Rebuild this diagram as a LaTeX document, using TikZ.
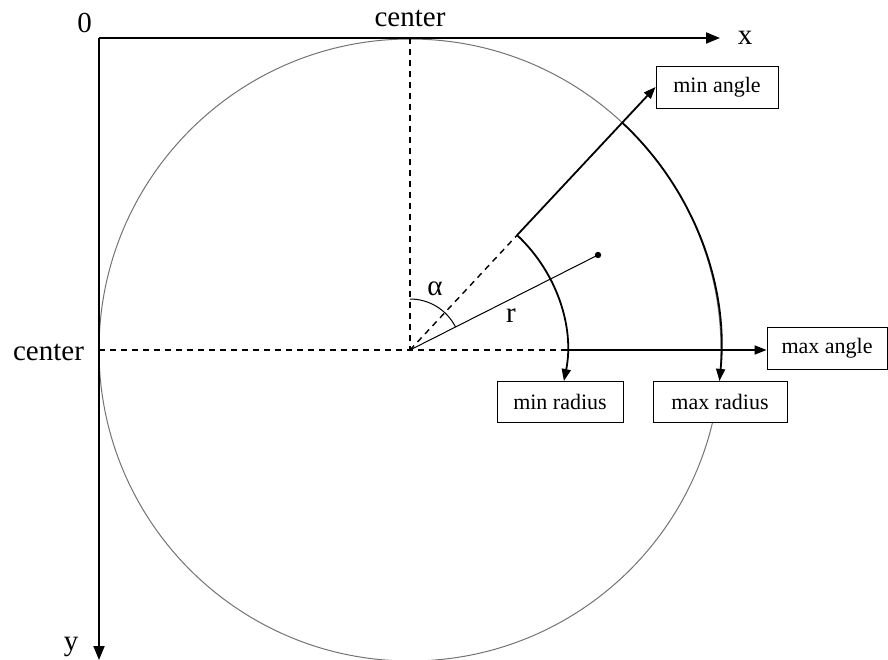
\documentclass[tikz,border=0pt]{standalone}
\usepackage{fontspec}
\setmainfont{Liberation Serif}
\usetikzlibrary{arrows.meta,calc}
\begin{document}
\begin{tikzpicture}[x=1pt,y=-1pt,
  axisline/.style={line width=2pt,-{Triangle[length=14pt,width=11pt]}},
  arcline/.style={line width=1.8pt,-{Triangle[length=12pt,width=9pt]}},
  dashline/.style={line width=1.4pt,dash pattern=on 6pt off 5pt},
  thinline/.style={line width=1pt},
  labelbox/.style={draw,fill=white,line width=0.9pt,inner sep=0pt,font=\fontsize{22}{26}\selectfont},
  biglabel/.style={anchor=base,inner sep=0pt,font=\fontsize{29}{32}\selectfont}]
\useasboundingbox (0,0) rectangle (888,660);
% key points
\coordinate (O) at (99,38);
\coordinate (C) at (410,350);
\coordinate (Xend) at (720,38);
\coordinate (Yend) at (99,660);
\coordinate (Ctop) at (410,38);
\coordinate (Cleft) at (99,350);
\coordinate (Pmin) at ($(C)+(-47:157)$);
\coordinate (Pmax) at ($(C)+(-47:311)$);
\coordinate (H1) at ($(C)+(0:157)$);
\coordinate (Aa) at ($(C)+(-90:51)$);
\coordinate (D) at (598,255);
% circle
\draw[line width=1pt,black!55] (C) circle (311);
% axes
\draw[axisline] (O) -- (Xend);
\draw[axisline] (O) -- (Yend);
% dashed guides
\draw[dashline] (Ctop) -- (C);
\draw[dashline] (Cleft) -- (C) -- (H1);
\draw[dashline] (C) -- (Pmin);
% boxes
\node[labelbox,minimum width=122pt,minimum height=42pt] (minangle) at (717,87) {min angle};
\node[labelbox,minimum width=120pt,minimum height=42pt] (maxangle) at (827,348) {max angle};
\node[labelbox,minimum width=126pt,minimum height=41pt] (minradius) at (560,401.5) {min radius};
\node[labelbox,minimum width=134pt,minimum height=41pt] (maxradius) at (720,401.5) {max radius};
% angle rays
\draw[arcline] (Pmin) -- (minangle.west);
\draw[arcline] (H1) -- (H1 -| maxangle.west);
% radius arcs
\draw[arcline] (Pmin) arc[start angle=-47, end angle=11.4, radius=157];
\draw[arcline] (Pmax) arc[start angle=-47, end angle=5.7, radius=311];
% point and alpha
\draw[thinline] (C) -- (D);
\fill (D) circle (3.2);
\draw[thinline] (Aa) arc[start angle=-90, end angle=-26.8, radius=51];
% labels
\node[biglabel] (lzero) at (84.5,33) {0};
\node[biglabel] (lctop) at (410,27) {center};
\node[biglabel] (lx) at (745,45) {x};
\node[biglabel] (ly) at (71,650) {y};
\node[biglabel] (lcleft) at (48.5,360) {center};
\node[biglabel] (lalpha) at (435,295) {α};
\node[biglabel] (lr) at (511,322) {r};
\end{tikzpicture}
\end{document}
